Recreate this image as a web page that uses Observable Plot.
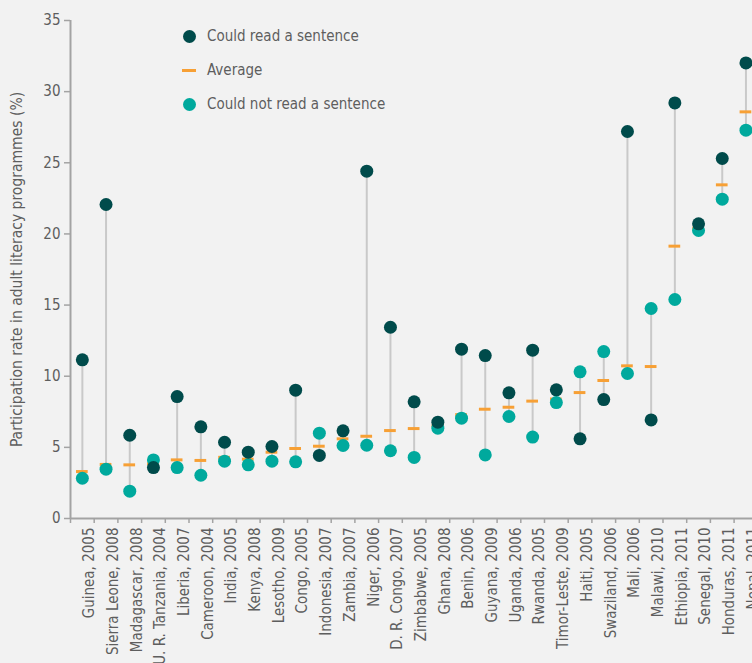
<!DOCTYPE html>
<html><head><meta charset="utf-8">
<script src="https://cdn.jsdelivr.net/npm/d3@7"></script>
<script src="https://cdn.jsdelivr.net/npm/@observablehq/plot@0.6"></script>
<style>
html,body{margin:0;padding:0;background:#f2f2f2;}
#wrap{position:relative;width:752px;height:663px;overflow:hidden;font-family:"DejaVu Sans Condensed","DejaVu Sans",sans-serif;}
#legend{position:absolute;left:182px;top:19px;font-size:15px;color:#5e5e5e;}
.row{display:flex;align-items:center;height:34px;}
.mk{width:14px;height:14px;margin-right:11px;display:flex;align-items:center;justify-content:center;}
.dot{width:13px;height:13px;border-radius:50%;}
.dash{width:14px;height:3px;}
</style></head>
<body><div id="wrap"><div id="chart"></div><div id="legend"></div></div>
<script>
const countries = ["Guinea, 2005","Sierra Leone, 2008","Madagascar, 2008","U. R. Tanzania, 2004","Liberia, 2007","Cameroon, 2004","India, 2005","Kenya, 2008","Lesotho, 2009","Congo, 2005","Indonesia, 2007","Zambia, 2007","Niger, 2006","D. R. Congo, 2007","Zimbabwe, 2005","Ghana, 2008","Benin, 2006","Guyana, 2009","Uganda, 2006","Rwanda, 2005","Timor-Leste, 2009","Haiti, 2005","Swaziland, 2006","Mali, 2006","Malawi, 2010","Ethiopia, 2011","Senegal, 2010","Honduras, 2011","Nepal, 2011"];
const couldRead = [11.15,22.07,5.85,3.58,8.57,6.44,5.36,4.66,5.06,9.02,4.43,6.16,24.41,13.44,8.2,6.77,11.9,11.45,8.83,11.83,9.04,5.6,8.36,27.2,6.93,29.21,20.71,25.3,32.02];
const average = [3.3,3.8,3.77,3.85,4.12,4.08,4.3,4.17,4.66,4.92,5.08,5.6,5.78,6.18,6.32,6.5,7.3,7.68,7.82,8.25,8.4,8.85,9.7,10.73,10.68,19.14,20.4,23.45,28.58];
const couldNotRead = [2.83,3.47,1.92,4.12,3.58,3.04,4.03,3.77,4.03,3.98,6.0,5.13,5.15,4.76,4.29,6.35,7.05,4.47,7.17,5.72,8.15,10.31,11.73,10.19,14.76,15.39,20.24,22.44,27.29];
const yTicks = [0,5,10,15,20,25,30,35];
const yLabel = "Participation rate in adult literacy programmes (%)";
const seriesNames = ["Could read a sentence","Average","Could not read a sentence"];
const colors = {read:"#004b4b", avg:"#f7a035", notRead:"#00a99d", rule:"#c9c9c9", axis:"#a3a3a3", text:"#5e5e5e"};

const data = countries.map((c,i)=>({country:c, read:couldRead[i], avg:average[i], notRead:couldNotRead[i]}));

const width = 752, height = 663, marginLeft = 70, marginRight = -5.3, marginTop = 20, marginBottom = 145;
const step = (width - marginRight - marginLeft) / countries.length;

const chart = Plot.plot({
  width, height, marginLeft, marginRight, marginTop, marginBottom,
  style:{background:"#f2f2f2", fontFamily:'"DejaVu Sans Condensed","DejaVu Sans",sans-serif', fontSize:"15px", color:colors.text, overflow:"hidden"},
  x:{type:"band", domain:countries, padding:0, round:false, label:null},
  y:{type:"linear", domain:[0,35], label:null},
  marks:[
    Plot.ruleY([0], {stroke:colors.axis, strokeWidth:2}),
    Plot.ruleX([countries[0]], {x:d=>d, dx:-step/2, stroke:colors.axis, strokeWidth:2}),
    Plot.axisY({ticks:yTicks, tickSize:6, tickPadding:4, stroke:colors.axis, strokeWidth:1.5, fill:colors.text, label:null}),
    Plot.axisX({tickSize:0, tickPadding:9, tickRotate:-90, dx:7, fill:colors.text, label:null}),
    Plot.axisX({tickSize:5, tickFormat:()=>"", dx:-step/2, stroke:colors.axis, strokeWidth:1.5, label:null}),
    Plot.text([yLabel], {frameAnchor:"left", textAnchor:"middle", text:d=>d, rotate:-90, dx:-53, fill:colors.text, fontSize:15.5}),
    Plot.ruleX(data, {x:"country", y1:"read", y2:"notRead", stroke:colors.rule, strokeWidth:2}),
    Plot.tickY(data, {x:"country", y:"avg", stroke:colors.avg, strokeWidth:3, inset:6}),
    Plot.dot(data, {x:"country", y:"notRead", r:6.5, fill:colors.notRead}),
    Plot.dot(data, {x:"country", y:"read", r:6.5, fill:colors.read})
  ]
});
document.getElementById("chart").appendChild(chart);

const legend = document.getElementById("legend");
const markers = [
  `<div class="dot" style="background:${colors.read}"></div>`,
  `<div class="dash" style="background:${colors.avg}"></div>`,
  `<div class="dot" style="background:${colors.notRead}"></div>`
];
seriesNames.forEach((name,i)=>{
  const row = document.createElement("div");
  row.className = "row";
  row.innerHTML = `<div class="mk">${markers[i]}</div><span>${name}</span>`;
  legend.appendChild(row);
});
</script>
</body></html>
